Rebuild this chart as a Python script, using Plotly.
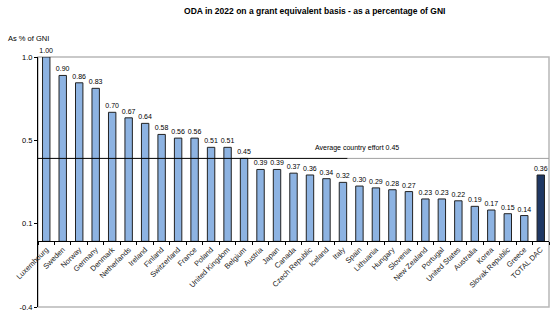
import plotly.graph_objects as go

countries = ["Luxembourg", "Sweden", "Norway", "Germany", "Denmark", "Netherlands", "Ireland",
             "Finland", "Switzerland", "France", "Poland", "United Kingdom", "Belgium", "Austria",
             "Japan", "Canada", "Czech Republic", "Iceland", "Italy", "Spain", "Lithuania",
             "Hungary", "Slovenia", "New Zealand", "Portugal", "United States", "Australia",
             "Korea", "Slovak Republic", "Greece", "TOTAL DAC"]
oda_gni = [1.00, 0.90, 0.86, 0.83, 0.70, 0.67, 0.64, 0.58, 0.56, 0.56, 0.51, 0.51, 0.45, 0.39,
           0.39, 0.37, 0.36, 0.34, 0.32, 0.30, 0.29, 0.28, 0.27, 0.23, 0.23, 0.22, 0.19, 0.17,
           0.15, 0.14, 0.36]
average_effort = 0.45
y_tick_vals = [1.0, 0.548, 0.096, -0.356]
y_tick_text = ["1.0", "0.5", "0.1", "-0.4"]

ymin, ymax = -0.356, 1.0
colors = ["#1f3864" if c == "TOTAL DAC" else "#8db3e2" for c in countries]

FONT = "Liberation Sans, Arial, sans-serif"

fig = go.Figure()
fig.add_trace(go.Bar(
    x=countries, y=oda_gni, width=0.45,
    marker=dict(color=colors, line=dict(color="#222222", width=1)),
    text=[f"{v:.2f}" for v in oda_gni], textposition="outside",
    constraintext="none",
    textfont=dict(size=7, color="#000000", family=FONT),
    cliponaxis=False, showlegend=False,
))

# average line: black part then grey part
fig.add_shape(type="line", xref="paper", yref="y", x0=0, x1=0.606,
              y0=average_effort, y1=average_effort, line=dict(color="#000000", width=1))
fig.add_shape(type="line", xref="paper", yref="y", x0=0.606, x1=1,
              y0=average_effort, y1=average_effort, line=dict(color="#a0a0a0", width=1))
fig.add_annotation(xref="paper", yref="y", x=0.625, y=average_effort, yshift=10,
                   text=f"Average country effort {average_effort:.2f}", showarrow=False,
                   font=dict(size=7, color="#000000", family=FONT))

# plot border
fig.add_shape(type="rect", xref="paper", yref="paper", x0=0, x1=1, y0=0, y1=1,
              line=dict(color="#b8b8b8", width=1.5), layer="below")

fig.update_layout(
    width=559, height=321,
    margin=dict(l=38, r=10, t=57, b=9),
    paper_bgcolor="white", plot_bgcolor="white",
    bargap=0.55,
    font=dict(family=FONT, size=7, color="#000000"),
    title=dict(text="<b>ODA in 2022 on a grant equivalent basis - as a percentage of GNI</b>",
               x=0.563, xanchor="center", y=0.965, yanchor="middle",
               font=dict(size=8.5, family=FONT, color="#000000")),
    xaxis=dict(
        anchor="free", position=(0 - ymin) / (ymax - ymin),
        showline=True, linecolor="#000000", linewidth=1,
        ticks="outside", tickson="boundaries", ticklen=3, tickcolor="#000000",
        tickangle=-45, tickfont=dict(size=7.5, family=FONT, color="#222222"),
        showgrid=False, zeroline=False,
    ),
    yaxis=dict(
        range=[ymin, ymax], tickvals=y_tick_vals, ticktext=y_tick_text,
        showline=True, linecolor="#000000", linewidth=1,
        ticks="outside", ticklen=3, tickcolor="#000000",
        tickfont=dict(size=7.5, family=FONT, color="#000000"),
        showgrid=False, zeroline=False,
    ),
)
fig.add_annotation(xref="paper", yref="paper", x=-0.063, y=1.1, xanchor="left",
                   text="As % of GNI", showarrow=False,
                   font=dict(size=7.5, family=FONT, color="#000000"))

fig.write_html("out.html")
